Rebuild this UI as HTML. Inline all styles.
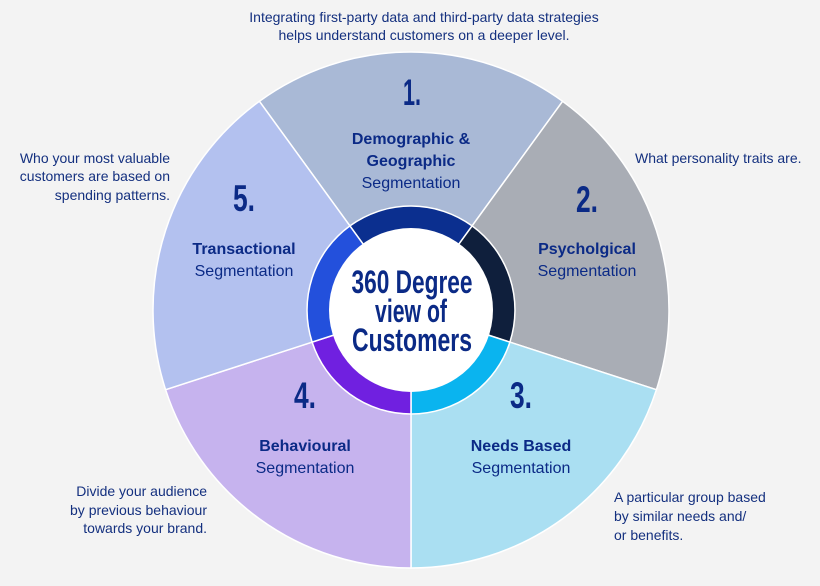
<!DOCTYPE html>
<html><head><meta charset="utf-8"><style>
html,body{margin:0;padding:0;background:#f3f3f3;}
svg{display:block}
.n{font-family:"Liberation Sans",sans-serif;font-weight:bold;font-size:37px;fill:#0b2a86;text-anchor:middle}
.b{font-family:"Liberation Sans",sans-serif;font-weight:bold;font-size:16px;fill:#0b2a86;text-anchor:middle}
.r{font-family:"Liberation Sans",sans-serif;font-size:16px;fill:#0b2a86;text-anchor:middle}
.o{font-family:"Liberation Sans",sans-serif;font-size:14px;fill:#14307f}
.c{font-family:"Liberation Sans",sans-serif;font-weight:bold;font-size:32px;fill:#0b2a86;text-anchor:middle}
</style></head><body>
<svg width="820" height="586" viewBox="0 0 820 586" xmlns="http://www.w3.org/2000/svg">
<rect width="820" height="586" fill="#f3f3f3"/>
<g stroke="#ffffff" stroke-width="1.5">
<path d="M411 310 L259.4 101.3 A258 258 0 0 1 562.6 101.3 Z" fill="#a9b9d6"/>
<path d="M411 310 L562.6 101.3 A258 258 0 0 1 656.4 389.7 Z" fill="#a9adb5"/>
<path d="M411 310 L656.4 389.7 A258 258 0 0 1 411 568 Z" fill="#aadff2"/>
<path d="M411 310 L411 568 A258 258 0 0 1 165.6 389.7 Z" fill="#c6b3ee"/>
<path d="M411 310 L165.6 389.7 A258 258 0 0 1 259.4 101.3 Z" fill="#b3c1ef"/>
<path d="M411 310 L349.9 225.9 A104 104 0 0 1 472.1 225.9 Z" fill="#0b2f8f"/>
<path d="M411 310 L472.1 225.9 A104 104 0 0 1 509.9 342.1 Z" fill="#0f1f3c"/>
<path d="M411 310 L509.9 342.1 A104 104 0 0 1 411 414 Z" fill="#0ab4ef"/>
<path d="M411 310 L411 414 A104 104 0 0 1 312.1 342.1 Z" fill="#7020e0"/>
<path d="M411 310 L312.1 342.1 A104 104 0 0 1 349.9 225.9 Z" fill="#2350dc"/>
</g>
<circle cx="411" cy="310" r="82" fill="#ffffff"/>
<text class="c" x="412" y="293" textLength="121" lengthAdjust="spacingAndGlyphs">360 Degree</text>
<text class="c" x="411" y="322" textLength="72" lengthAdjust="spacingAndGlyphs">view of</text>
<text class="c" x="412" y="351" textLength="120" lengthAdjust="spacingAndGlyphs">Customers</text>

<text class="n" x="412" y="105" textLength="18" lengthAdjust="spacingAndGlyphs">1.</text>
<text class="b" x="411" y="144">Demographic &amp;</text>
<text class="b" x="411" y="166">Geographic</text>
<text class="r" x="411" y="188">Segmentation</text>

<text class="n" x="587" y="212" textLength="22" lengthAdjust="spacingAndGlyphs">2.</text>
<text class="b" x="587" y="254">Psycholgical</text>
<text class="r" x="587" y="276">Segmentation</text>

<text class="n" x="521" y="408" textLength="22" lengthAdjust="spacingAndGlyphs">3.</text>
<text class="b" x="521" y="451">Needs Based</text>
<text class="r" x="521" y="473">Segmentation</text>

<text class="n" x="305" y="408" textLength="22" lengthAdjust="spacingAndGlyphs">4.</text>
<text class="b" x="305" y="451">Behavioural</text>
<text class="r" x="305" y="473">Segmentation</text>

<text class="n" x="244" y="211" textLength="22" lengthAdjust="spacingAndGlyphs">5.</text>
<text class="b" x="244" y="254">Transactional</text>
<text class="r" x="244" y="276">Segmentation</text>

<text class="o" x="424" y="22" text-anchor="middle">Integrating first-party data and third-party data strategies</text>
<text class="o" x="424" y="40" text-anchor="middle">helps understand customers on a deeper level.</text>
<text class="o" x="635" y="163">What personality traits are.</text>
<text class="o" x="170" y="163" text-anchor="end">Who your most valuable</text>
<text class="o" x="170" y="181" text-anchor="end">customers are based on</text>
<text class="o" x="170" y="200" text-anchor="end">spending patterns.</text>
<text class="o" x="207" y="496" text-anchor="end">Divide your audience</text>
<text class="o" x="207" y="515" text-anchor="end">by previous behaviour</text>
<text class="o" x="207" y="533" text-anchor="end">towards your brand.</text>
<text class="o" x="614" y="502">A particular group based</text>
<text class="o" x="614" y="521">by similar needs and/</text>
<text class="o" x="614" y="540">or benefits.</text>
</svg>
</body></html>
